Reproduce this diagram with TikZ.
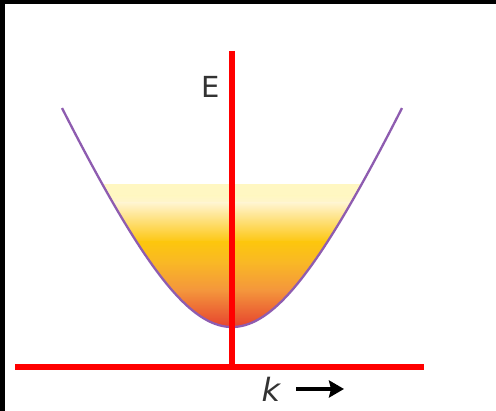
\documentclass[tikz,border=0pt]{standalone}
\usepackage{fontspec}
\setmainfont{DejaVu Sans}
\usetikzlibrary{arrows.meta}
\definecolor{axisred}{HTML}{FF0000}
\definecolor{curvepurple}{HTML}{8E5CB0}
\definecolor{labelgray}{HTML}{333333}
\definecolor{cA}{HTML}{FFF7C2}
\definecolor{cB}{HTML}{FFF4CE}
\definecolor{cC}{HTML}{FDC60E}
\definecolor{cD}{HTML}{F9B825}
\definecolor{cE}{HTML}{F4963C}
\definecolor{cF}{HTML}{E4382C}
\begin{document}
\begin{tikzpicture}[x=1pt,y=-1pt,
  axis/.style={draw=axisred,line width=6pt},
  curve/.style={draw=curvepurple,line width=2.3pt},
  lbl/.style={text=labelgray,inner sep=0pt},
  arr/.style={draw=black,line width=4.5pt,-{Stealth[length=15pt,width=17pt,inset=2pt]}},
  frame/.style={fill=black,draw=none}]
\useasboundingbox (0,0) rectangle (496,411);
\fill[white] (0,0) rectangle (496,411);
\path[frame] (0,0) rectangle (5,411);
\path[frame] (0,0) rectangle (496,4);
% filled band
\begin{scope}
  \clip plot[domain=-129.7:129.7,samples=81] ({232+\x},{327-242.5*(sqrt(1+(\x/105)^2)-1)}) -- cycle;
  \fill[cA] (95,180) rectangle (370,196.5);
  \path[top color=cA,bottom color=cB] (95,196) rectangle (370,203.5);
  \path[top color=cB,bottom color=cC] (95,203) rectangle (370,242.5);
  \path[top color=cC,bottom color=cD] (95,242) rectangle (370,262.5);
  \path[top color=cD,bottom color=cE] (95,262) rectangle (370,290.5);
  \path[top color=cE,bottom color=cF] (95,290) rectangle (370,332);
\end{scope}
% band curve
\draw[curve] plot[domain=-170:170,samples=121] ({232+\x},{327-242.5*(sqrt(1+(\x/105)^2)-1)});
% axes
\coordinate (yTop) at (232,51);
\coordinate (yBot) at (232,367);
\coordinate (xL) at (15,367);
\coordinate (xR) at (424,367);
\draw[axis] (yTop) -- (yBot);
\draw[axis] (xL) -- (xR);
% labels
\node[lbl,anchor=base] (E) at (210.5,98) {\fontsize{29}{34}\selectfont E};
\node[lbl,anchor=base] (k) at (271,402) {\fontsize{32}{38}\selectfont\itshape k};
\coordinate (arrS) at (296,389);
\coordinate (arrE) at (344,389);
\draw[arr] (arrS) -- (arrE);
\end{tikzpicture}
\end{document}
